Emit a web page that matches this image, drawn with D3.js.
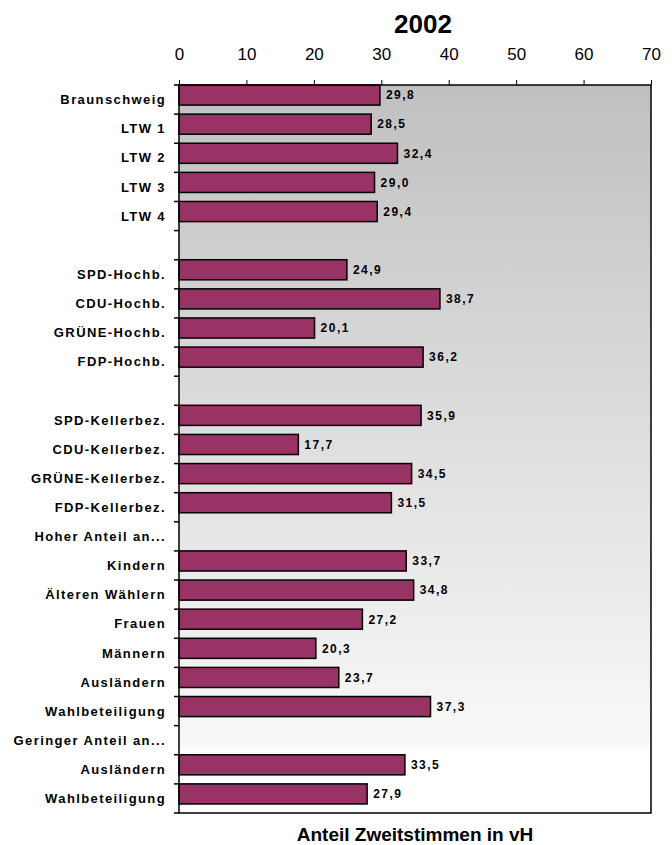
<!DOCTYPE html>
<html lang="de">
<head>
<meta charset="utf-8">
<title>2002</title>
<script src="https://d3js.org/d3.v7.min.js"></script>
<style>
  body { margin: 0; background: #fff; }
  text { font-family: "Liberation Sans", Arial, sans-serif; }
</style>
</head>
<body>
<div id="chart"></div>
<script>
// Kategorien (von oben nach unten), leere Zeilen als Abstandhalter
var categories = [
  "Braunschweig", "LTW 1", "LTW 2", "LTW 3", "LTW 4", "",
  "SPD-Hochb.", "CDU-Hochb.", "GRÜNE-Hochb.", "FDP-Hochb.", " ",
  "SPD-Kellerbez.", "CDU-Kellerbez.", "GRÜNE-Kellerbez.", "FDP-Kellerbez.",
  "Hoher Anteil an...", "Kindern", "Älteren Wählern", "Frauen", "Männern",
  "Ausländern", "Wahlbeteiligung",
  "Geringer Anteil an...", "Ausländern ", "Wahlbeteiligung "
];
// Anteil Zweitstimmen in vH (null = kein Balken)
var values = [
  29.8, 28.5, 32.4, 29.0, 29.4, null,
  24.9, 38.7, 20.1, 36.2, null,
  35.9, 17.7, 34.5, 31.5,
  null, 33.7, 34.8, 27.2, 20.3,
  23.7, 37.3,
  null, 33.5, 27.9
];
var xTicks = [0, 10, 20, 30, 40, 50, 60, 70];
var title = "2002";
var xTitle = "Anteil Zweitstimmen in vH";

var width = 672, height = 845;
var margin = {top: 85, right: 21, bottom: 32, left: 179};
var W = width - margin.left - margin.right,
    H = height - margin.top - margin.bottom;

var svg = d3.select("#chart").append("svg")
    .attr("width", width).attr("height", height);

var defs = svg.append("defs");
var grad = defs.append("linearGradient")
    .attr("id", "bg").attr("x1", 0).attr("y1", 0).attr("x2", 0).attr("y2", 1);
grad.append("stop").attr("offset", "0%").attr("stop-color", "#c0c0c0");
grad.append("stop").attr("offset", "100%").attr("stop-color", "#f9f9f9");

var x = d3.scaleLinear().domain([0, 70]).range([0, W]);
var y = d3.scaleBand().domain(categories).range([0, H]);

var g = svg.append("g").attr("transform", "translate(" + margin.left + "," + margin.top + ")");

// Hintergrund
g.append("rect").attr("width", W).attr("height", H).attr("fill", "#fff");
g.append("rect").attr("width", W).attr("height", H * 0.912).attr("fill", "url(#bg)");

// Balken
var rows = categories.map(function (c, i) { return {cat: c, v: values[i]}; })
    .filter(function (d) { return d.v != null; });

g.selectAll(".bar").data(rows).enter().append("rect")
    .attr("class", "bar")
    .attr("x", 0)
    .attr("y", function (d) { return y(d.cat); })
    .attr("width", function (d) { return x(d.v); })
    .attr("height", y.bandwidth() * 0.69)
    .attr("fill", "#993366")
    .attr("stroke", "#000")
    .attr("stroke-width", 1.5);

g.selectAll(".val").data(rows).enter().append("text")
    .attr("class", "val")
    .attr("x", function (d) { return x(d.v) + 6; })
    .attr("y", function (d) { return y(d.cat) + y.bandwidth() * 0.345; })
    .attr("dy", "0.36em")
    .style("font-size", "12px")
    .style("font-weight", "bold")
    .style("letter-spacing", "1.5px")
    .text(function (d) { return d3.format(".1f")(d.v).replace(".", ","); });

// Rahmen
g.append("rect").attr("width", W).attr("height", H)
    .attr("fill", "none").attr("stroke", "#000").attr("stroke-width", 1.5);

// obere Achse
var xAxis = g.append("g")
    .call(d3.axisTop(x).tickValues(xTicks).tickSize(5).tickPadding(20).tickFormat(d3.format("d")));
xAxis.select(".domain").remove();
xAxis.selectAll("line").attr("stroke", "#000");
xAxis.selectAll("text")
    .style("font-size", "17px")
    .style("font-family", "'Liberation Sans', Arial, sans-serif")
    .attr("fill", "#000");

// linke Achse: Teilstriche an Bandgrenzen
var bounds = categories.map(function (c) { return y(c); }).concat([H]);
g.selectAll(".ytick").data(bounds).enter().append("line")
    .attr("x1", -5).attr("x2", 0)
    .attr("y1", function (d) { return d; }).attr("y2", function (d) { return d; })
    .attr("stroke", "#000").attr("stroke-width", 1.5);

g.selectAll(".cat").data(categories).enter().append("text")
    .attr("class", "cat")
    .attr("x", -13)
    .attr("y", function (d) { return y(d) + y.bandwidth() / 2; })
    .attr("dy", "0.36em")
    .attr("text-anchor", "end")
    .style("font-size", "13px")
    .style("font-weight", "bold")
    .style("letter-spacing", "1.4px")
    .text(function (d) { return d.trim(); });

// Titel
svg.append("text")
    .attr("x", 423).attr("y", 33)
    .attr("text-anchor", "middle")
    .style("font-size", "26px").style("font-weight", "bold")
    .text(title);

svg.append("text")
    .attr("x", margin.left + W / 2).attr("y", 841)
    .attr("text-anchor", "middle")
    .style("font-size", "19px").style("font-weight", "bold")
    .text(xTitle);
</script>
</body>
</html>
